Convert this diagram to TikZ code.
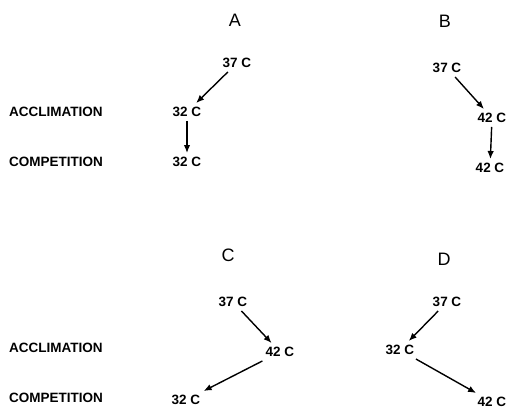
\documentclass[tikz,border=0pt]{standalone}
\usepackage{fontspec}
\setmainfont{Liberation Sans}
\usetikzlibrary{arrows.meta}
\begin{document}
\begin{tikzpicture}[x=1pt,y=-1pt,every node/.style={font=\bfseries\fontsize{13.5}{15}\selectfont,inner sep=4pt}]
            \useasboundingbox (0,0) rectangle (507,409);
            \tikzset{panel/.style={font=\fontsize{18}{20}\selectfont}}
            \tikzset{row/.style={anchor=west,inner sep=1pt}}
            \tikzset{move/.style={-{Latex[length=8pt,width=6.5pt]},line width=1.4pt}}

            \node[panel] (A) at (235,20) {A};
            \node[panel] (B) at (445,21) {B};
            \node[panel] (C) at (228,255) {C};
            \node[panel] (D) at (444,259) {D};

            \node[row] (acc1) at (8,112) {ACCLIMATION};
            \node[row] (com1) at (8,162) {COMPETITION};
            \node[row] (acc2) at (8,348) {ACCLIMATION};
            \node[row] (com2) at (8,398) {COMPETITION};

            \node (a1) at (237,63) {37 C};
            \node (a2) at (187,112) {32 C};
            \node (a3) at (187,162) {32 C};

            \node (b1) at (447,68) {37 C};
            \node (b2) at (492,118) {42 C};
            \node (b3) at (490,168) {42 C};

            \node (c1) at (233,302) {37 C};
            \node (c2) at (280,352) {42 C};
            \node (c3) at (186,400) {32 C};

            \node (d1) at (447,302) {37 C};
            \node (d2) at (400,350) {32 C};
            \node (d3) at (492,402) {42 C};

            \path [move] (a1) edge (a2);
            \path [move] (a2) edge (a3);
            \path [move] (b1) edge (b2);
            \path [move] (b2) edge (b3);
            \path [move] (c1) edge (c2);
            \path [move] (c2) edge (c3);
            \path [move] (d1) edge (d2);
            \path [move] (d2) edge (d3);
        \end{tikzpicture}
\end{document}
